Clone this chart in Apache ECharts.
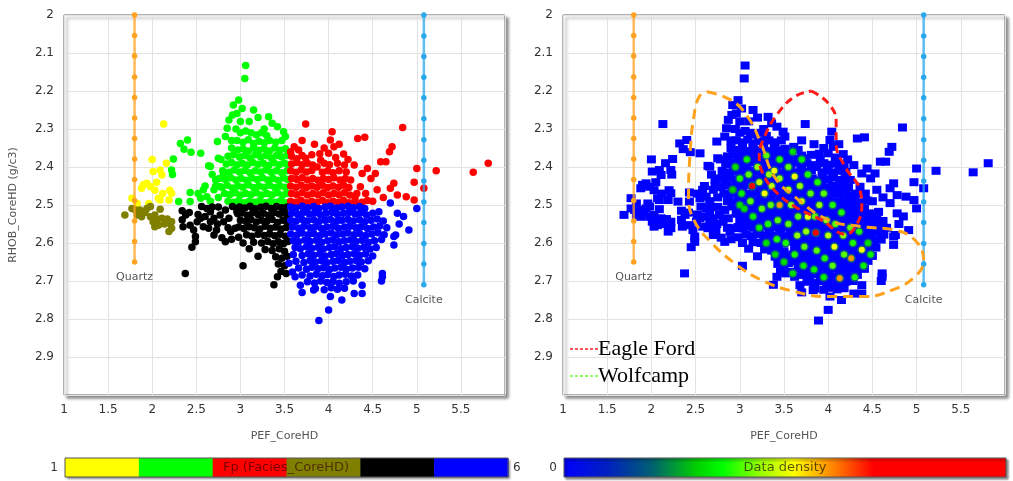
<!DOCTYPE html>
<html><head><meta charset="utf-8">
<script src="https://cdn.jsdelivr.net/npm/echarts@6/dist/echarts.min.js"></script>
<style>html,body{margin:0;padding:0;background:#fff}#c{width:1013px;height:481px}</style>
</head><body><div id="c"></div>
<script>
// ---------- tick labels ----------
const xTickLabels = ['1','1.5','2','2.5','3','3.5','4','4.5','5','5.5'];
const yTickLabels = ['2','2.1','2.2','2.3','2.4','2.5','2.6','2.7','2.8','2.9'];

// ---------- mineral lines ----------
const quartzPEF = 1.8;
const quartzRHOB = [2.0,2.054,2.108,2.163,2.217,2.271,2.325,2.379,2.433,2.488,2.542,2.596,2.65];
const calcitePEF = 5.08;
const calciteRHOB = [2.0,2.055,2.109,2.164,2.218,2.273,2.328,2.382,2.437,2.492,2.546,2.601,2.655,2.71];

// ---------- facies points [PEF, RHOB] ----------
const yellowPts = [[2.13,2.287],[2.0,2.38],[2.16,2.39],[2.01,2.412],[2.09,2.408],[2.11,2.421],[1.90,2.447],[1.94,2.443],[1.98,2.452],[1.88,2.456],[2.03,2.461],[2.20,2.461],[2.22,2.469],[2.19,2.487],[2.09,2.487],[2.07,2.482],[1.77,2.482],[1.83,2.496],[1.96,2.496],[2.12,2.47],[2.05,2.44]];
const olivePts = [[1.69,2.526],[1.77,2.509],[1.81,2.513],[1.86,2.513],[1.94,2.509],[1.98,2.504],[2.09,2.511],[1.83,2.526],[1.88,2.531],[1.98,2.531],[2.03,2.526],[2.01,2.544],[2.05,2.539],[2.11,2.535],[2.17,2.537],[2.03,2.557],[2.07,2.553],[2.20,2.548],[2.22,2.561],[2.19,2.570],[2.22,2.544],[1.92,2.52],[2.14,2.55]];
const greenPts = [[3.06,2.133],[3.05,2.167],[2.98,2.224],[2.92,2.237],[3.02,2.246],[2.96,2.259],[2.91,2.263],[3.15,2.25],[3.32,2.268],[2.87,2.276],[2.85,2.298],[2.83,2.32],[2.74,2.333],[2.32,2.338],[2.40,2.329],[2.36,2.353],[2.44,2.361],[2.55,2.364],[2.24,2.379],[2.23,2.42],[2.22,2.408],[2.64,2.397],[2.43,2.467],[2.52,2.47],[2.55,2.482],[2.43,2.491],[2.30,2.491],[2.70,2.46],[2.77,2.452],[2.62,2.478],[2.58,2.46],[2.72,2.434],[2.81,2.417],[2.75,2.377],[2.66,2.399],[3.36,2.285],[3.42,2.294],[3.49,2.307],[3.51,2.32],[3.1,2.28],[3.2,2.27],[3.27,2.3],[2.95,2.3],[3.0,2.28],[2.9,2.33],[2.78,2.38],[2.68,2.42],[2.6,2.45],[2.66,2.49],[2.75,2.48],
[3.0,2.31],[3.06,2.305],[3.12,2.31],[3.18,2.315],[3.24,2.31],[3.3,2.318],[2.96,2.33],[3.03,2.335],[3.09,2.328],[3.15,2.338],[3.21,2.332],[3.27,2.336],[3.33,2.33],[3.4,2.335],[3.47,2.33],
[2.9,2.35],[2.97,2.355],[3.03,2.352],[3.09,2.358],[3.15,2.35],[3.21,2.356],[3.27,2.352],[3.33,2.358],[3.39,2.35],[3.45,2.356],[3.51,2.352],
[2.86,2.372],[2.92,2.368],[2.99,2.374],[3.05,2.37],[3.11,2.376],[3.17,2.368],[3.23,2.374],[3.29,2.37],[3.35,2.376],[3.41,2.37],[3.47,2.374],[3.53,2.37],
[2.84,2.392],[2.9,2.388],[2.96,2.394],[3.02,2.39],[3.08,2.395],[3.14,2.388],[3.2,2.393],[3.26,2.39],[3.32,2.396],[3.38,2.389],[3.44,2.394],[3.5,2.39],[3.54,2.395],
[2.8,2.41],[2.87,2.414],[2.93,2.408],[2.99,2.413],[3.05,2.409],[3.11,2.415],[3.17,2.41],[3.23,2.413],[3.29,2.408],[3.35,2.414],[3.41,2.41],[3.47,2.415],[3.53,2.41],
[2.76,2.43],[2.83,2.433],[2.89,2.428],[2.95,2.434],[3.01,2.43],[3.07,2.435],[3.13,2.429],[3.19,2.433],[3.25,2.428],[3.31,2.434],[3.37,2.43],[3.43,2.435],[3.49,2.429],[3.54,2.433],
[2.72,2.45],[2.79,2.453],[2.85,2.448],[2.91,2.455],[2.97,2.45],[3.03,2.453],[3.09,2.447],[3.15,2.454],[3.21,2.45],[3.27,2.453],[3.33,2.448],[3.39,2.454],[3.45,2.45],[3.51,2.453],
[2.82,2.47],[2.88,2.473],[2.94,2.468],[3.0,2.474],[3.06,2.47],[3.12,2.473],[3.18,2.468],[3.24,2.474],[3.3,2.47],[3.36,2.473],[3.42,2.468],[3.48,2.474],[3.53,2.47],
[2.86,2.49],[2.92,2.493],[2.98,2.488],[3.04,2.494],[3.1,2.49],[3.16,2.493],[3.22,2.488],[3.28,2.494],[3.34,2.49],[3.4,2.493],[3.46,2.488],[3.52,2.494]];
const redPts = [[3.74,2.287],[4.04,2.307],[4.33,2.325],[4.41,2.322],[4.84,2.296],[3.84,2.34],[4.02,2.329],[4.06,2.347],[4.0,2.364],[4.17,2.366],[3.61,2.347],[3.57,2.36],[3.66,2.355],[3.74,2.377],[3.81,2.368],[3.91,2.382],[3.87,2.40],[4.29,2.395],[4.44,2.404],[4.53,2.417],[4.48,2.43],[4.38,2.417],[4.59,2.386],[4.65,2.386],[4.69,2.36],[4.72,2.347],[4.25,2.434],[4.36,2.452],[4.74,2.443],[4.70,2.456],[4.78,2.474],[4.88,2.478],[4.97,2.487],[5.0,2.404],[4.97,2.44],[5.08,2.456],[5.22,2.41],[5.64,2.414],[5.81,2.39],[3.95,2.35],[4.12,2.34],[3.7,2.33],[4.22,2.38],[4.55,2.46],[4.62,2.48],[4.42,2.47],[4.3,2.48],[4.5,2.49],
[3.58,2.372],[3.64,2.378],[3.7,2.37],[3.9,2.365],[4.08,2.375],
[3.58,2.392],[3.64,2.388],[3.7,2.394],[3.76,2.39],[3.82,2.395],[3.95,2.39],[4.01,2.394],[4.1,2.39],[4.18,2.395],
[3.57,2.41],[3.63,2.414],[3.69,2.408],[3.75,2.413],[3.81,2.409],[3.93,2.414],[3.99,2.41],[4.05,2.415],[4.12,2.41],[4.2,2.413],
[3.58,2.43],[3.64,2.433],[3.7,2.428],[3.76,2.434],[3.82,2.43],[3.88,2.435],[3.94,2.43],[4.0,2.433],[4.06,2.428],[4.13,2.434],[4.19,2.43],
[3.57,2.45],[3.63,2.453],[3.69,2.448],[3.75,2.454],[3.81,2.45],[3.87,2.453],[3.93,2.448],[3.99,2.454],[4.05,2.45],[4.11,2.453],[4.17,2.448],[4.23,2.454],
[3.58,2.47],[3.64,2.473],[3.7,2.468],[3.76,2.474],[3.82,2.47],[3.88,2.473],[3.94,2.468],[4.0,2.474],[4.06,2.47],[4.12,2.473],[4.18,2.468],[4.24,2.474],[4.32,2.47],
[3.57,2.49],[3.63,2.493],[3.69,2.488],[3.75,2.494],[3.81,2.49],[3.87,2.493],[3.93,2.488],[3.99,2.494],[4.05,2.49],[4.11,2.493],[4.17,2.488],[4.23,2.494],[4.3,2.49],[4.38,2.493],[4.44,2.488]];
const blackPts = [[2.34,2.515],[2.38,2.526],[2.34,2.539],[2.35,2.557],[2.43,2.553],[2.51,2.544],[2.55,2.535],[2.47,2.566],[2.49,2.583],[2.45,2.611],[2.49,2.597],[2.56,2.504],[2.62,2.509],[2.66,2.518],[2.58,2.557],[2.64,2.561],[2.70,2.579],[2.73,2.566],[2.77,2.526],[2.83,2.513],[2.81,2.544],[2.87,2.535],[2.89,2.57],[2.94,2.561],[2.79,2.586],[2.83,2.597],[2.70,2.535],[2.66,2.544],[2.91,2.504],[2.96,2.518],[2.375,2.68],[3.03,2.66],[2.42,2.52],[2.52,2.525],[2.60,2.53],[2.75,2.505],[2.68,2.505],[2.86,2.56],[2.74,2.55],[2.90,2.59],
[2.99,2.505],[3.05,2.508],[3.11,2.503],[3.17,2.51],[3.23,2.506],[3.29,2.503],[3.35,2.509],[3.41,2.504],[3.47,2.507],[3.53,2.505],
[2.97,2.523],[3.02,2.521],[3.08,2.527],[3.14,2.52],[3.2,2.525],[3.26,2.522],[3.32,2.527],[3.38,2.52],[3.44,2.524],[3.5,2.521],[3.54,2.528],
[3.0,2.54],[3.06,2.543],[3.12,2.538],[3.18,2.545],[3.24,2.54],[3.3,2.543],[3.36,2.538],[3.42,2.546],[3.48,2.54],[3.53,2.544],
[2.98,2.558],[3.04,2.562],[3.1,2.557],[3.16,2.56],[3.22,2.563],[3.28,2.556],[3.34,2.561],[3.4,2.558],[3.46,2.563],[3.52,2.559],
[3.07,2.578],[3.13,2.582],[3.2,2.577],[3.27,2.58],[3.33,2.576],[3.39,2.581],[3.45,2.577],[3.51,2.582],
[3.15,2.598],[3.24,2.6],[3.31,2.596],[3.37,2.602],[3.43,2.597],[3.49,2.601],[3.54,2.596],
[3.28,2.617],[3.36,2.62],[3.44,2.615],[3.5,2.622],[3.4,2.636],[3.47,2.64],[3.53,2.635],
[3.43,2.655],[3.5,2.66],[3.46,2.675],[3.52,2.68],[3.42,2.689],[3.38,2.71],[3.2,2.635],[3.1,2.615],[3.03,2.6],[2.98,2.585]];
const bluePts = [[4.70,2.495],[4.78,2.522],[5.0,2.509],[4.91,2.566],[4.76,2.579],[4.74,2.605],[4.61,2.689],[4.38,2.711],[4.38,2.733],[4.29,2.733],[4.02,2.741],[4.0,2.776],[3.89,2.804],[3.83,2.724],[3.68,2.711],[3.62,2.689],[3.59,2.676],[3.55,2.653],[4.74,2.583],[4.61,2.68],[4.8,2.55],[4.85,2.53],[4.6,2.7],[4.15,2.75],[3.7,2.73],
[3.57,2.505],[3.63,2.508],[3.7,2.503],[3.76,2.507],[3.83,2.504],[3.89,2.509],[3.96,2.505],[4.02,2.503],[4.09,2.508],[4.15,2.505],[4.22,2.503],[4.28,2.507],[4.35,2.504],[4.41,2.509],
[3.58,2.522],[3.65,2.525],[3.71,2.52],[3.78,2.524],[3.84,2.521],[3.91,2.526],[3.97,2.522],[4.04,2.52],[4.1,2.525],[4.17,2.522],[4.23,2.52],[4.3,2.524],[4.36,2.521],[4.43,2.526],[4.5,2.522],[4.57,2.518],
[3.57,2.54],[3.63,2.543],[3.7,2.538],[3.76,2.542],[3.83,2.539],[3.89,2.544],[3.96,2.54],[4.02,2.538],[4.09,2.543],[4.15,2.54],[4.22,2.538],[4.28,2.542],[4.35,2.539],[4.41,2.544],[4.48,2.54],[4.55,2.537],[4.62,2.542],
[3.59,2.558],[3.66,2.561],[3.72,2.556],[3.79,2.56],[3.85,2.557],[3.92,2.562],[3.98,2.558],[4.05,2.556],[4.11,2.561],[4.18,2.558],[4.24,2.556],[4.31,2.56],[4.37,2.557],[4.44,2.562],[4.51,2.558],[4.58,2.555],[4.66,2.56],
[3.57,2.576],[3.64,2.579],[3.7,2.574],[3.77,2.578],[3.83,2.575],[3.9,2.58],[3.96,2.576],[4.03,2.574],[4.09,2.579],[4.16,2.576],[4.22,2.574],[4.29,2.578],[4.35,2.575],[4.42,2.58],[4.49,2.576],[4.56,2.573],[4.63,2.578],
[3.6,2.594],[3.66,2.597],[3.73,2.592],[3.79,2.596],[3.86,2.593],[3.92,2.598],[3.99,2.594],[4.05,2.592],[4.12,2.597],[4.18,2.594],[4.25,2.592],[4.31,2.596],[4.38,2.593],[4.45,2.598],[4.52,2.594],[4.6,2.591],
[3.62,2.612],[3.68,2.615],[3.75,2.61],[3.81,2.614],[3.88,2.611],[3.94,2.616],[4.01,2.612],[4.07,2.61],[4.14,2.615],[4.2,2.612],[4.27,2.61],[4.33,2.614],[4.4,2.611],[4.47,2.616],[4.54,2.612],
[3.6,2.63],[3.7,2.633],[3.77,2.628],[3.83,2.632],[3.9,2.629],[3.96,2.634],[4.03,2.63],[4.09,2.628],[4.16,2.633],[4.22,2.63],[4.29,2.628],[4.35,2.632],[4.42,2.629],[4.5,2.634],
[3.63,2.648],[3.72,2.651],[3.79,2.646],[3.85,2.65],[3.92,2.647],[3.98,2.652],[4.05,2.648],[4.11,2.646],[4.18,2.651],[4.24,2.648],[4.31,2.646],[4.37,2.65],[4.45,2.647],
[3.66,2.666],[3.75,2.669],[3.81,2.664],[3.88,2.668],[3.94,2.665],[4.01,2.67],[4.07,2.666],[4.14,2.664],[4.2,2.669],[4.27,2.666],[4.34,2.664],[4.41,2.668],
[3.7,2.684],[3.79,2.687],[3.86,2.682],[3.93,2.686],[3.99,2.683],[4.06,2.688],[4.12,2.684],[4.19,2.682],[4.26,2.687],[4.33,2.684],
[3.76,2.702],[3.84,2.705],[3.91,2.7],[3.98,2.704],[4.05,2.701],[4.12,2.706],[4.2,2.702],[4.28,2.7],
[3.85,2.72],[3.95,2.723],[4.03,2.718],[4.1,2.722],[4.18,2.719]];

// ---------- density hot spots [PEF, RHOB, density 0..1] ----------
const densitySpots = [[2.95,2.40,0.35],[3.0,2.43,0.45],[3.02,2.47,0.4],[3.05,2.51,0.35],[3.08,2.38,0.4],[3.1,2.42,0.5],[3.14,2.45,1.0],[3.12,2.49,0.5],[3.15,2.53,0.4],[3.2,2.40,0.55],[3.22,2.44,0.6],[3.28,2.47,0.7],[3.25,2.51,0.5],[3.22,2.56,0.4],[3.3,2.37,0.5],[3.33,2.42,0.55],[3.39,2.41,0.7],[3.36,2.45,0.6],[3.35,2.5,0.5],[3.32,2.55,0.45],[3.3,2.6,0.35],[3.45,2.38,0.45],[3.45,2.43,0.55],[3.45,2.50,0.85],[3.43,2.54,0.5],[3.42,2.59,0.45],[3.4,2.63,0.35],[3.55,2.40,0.5],[3.62,2.425,0.7],[3.55,2.46,0.6],[3.58,2.5,0.55],[3.55,2.55,0.5],[3.52,2.6,0.45],[3.5,2.65,0.35],[3.68,2.45,0.55],[3.7,2.49,0.6],[3.66,2.53,0.5],[3.65,2.58,0.55],[3.62,2.63,0.45],[3.6,2.68,0.35],[3.77,2.42,0.45],[3.8,2.47,0.5],[3.77,2.531,0.7],[3.75,2.57,0.55],[3.73,2.61,0.5],[3.72,2.66,0.4],[3.86,2.573,1.0],[3.88,2.44,0.45],[3.9,2.5,0.55],[3.85,2.53,0.5],[3.87,2.62,0.5],[3.84,2.67,0.4],[3.95,2.47,0.5],[3.98,2.54,0.55],[4.0,2.58,0.6],[3.96,2.64,0.45],[3.95,2.69,0.4],[4.07,2.61,0.7],[4.05,2.5,0.45],[4.08,2.55,0.5],[4.05,2.66,0.5],[4.13,2.693,0.85],[4.15,2.52,0.45],[4.17,2.58,0.55],[4.18,2.63,0.5],[4.26,2.64,0.85],[4.25,2.56,0.5],[4.28,2.6,0.45],[4.3,2.69,0.45],[4.38,2.618,0.7],[4.35,2.57,0.45],[4.4,2.66,0.4],[4.45,2.6,0.35],[4.48,2.63,0.4],[3.0,2.5,0.35],[2.92,2.46,0.3],[3.6,2.36,0.35],[3.7,2.38,0.4]];

// ---------- contour outlines [PEF, RHOB] ----------
const eagleFordCurve = [[3.81,2.20],[4.0,2.232],[4.09,2.281],[4.09,2.338],[4.19,2.399],[4.36,2.461],[4.38,2.504],[4.3,2.56],[4.2,2.577],[3.92,2.539],[3.62,2.504],[3.39,2.461],[3.26,2.417],[3.22,2.373],[3.28,2.32],[3.43,2.259],[3.62,2.215],[3.81,2.20]];
const wolfcampCurve = [[2.63,2.202],[2.90,2.224],[3.09,2.268],[3.24,2.338],[3.39,2.425],[3.62,2.478],[4.0,2.539],[4.38,2.557],[4.75,2.566],[4.98,2.592],[5.08,2.645],[4.98,2.689],[4.72,2.724],[4.41,2.741],[4.0,2.741],[3.62,2.728],[3.24,2.697],[2.94,2.653],[2.67,2.597],[2.48,2.539],[2.42,2.478],[2.44,2.355],[2.48,2.268],[2.54,2.215],[2.63,2.202]];

// ---------- legend / colour bar text ----------
const faciesBarTitle = 'Fp (Facies_CoreHD)';
const faciesBarMin = '1', faciesBarMax = '6';
const densityBarTitle = 'Data density', densityBarMin = '0';
const curveNames = ['Eagle Ford', 'Wolfcamp'];
const xName = 'PEF_CoreHD', yName = 'RHOB_CoreHD (g/c3)';

// ---------- styles ----------
const faciesColors = ['#ffff00','#00ff00','#ff0000','#808000','#000000','#0000ff'];
const densityStops = [[0,'#0000ff'],[0.1,'#0020c0'],[0.2,'#006070'],[0.3,'#00d000'],[0.36,'#00ff00'],[0.45,'#a0ff00'],[0.52,'#ffff00'],[0.6,'#ff9000'],[0.7,'#ff0000'],[1,'#ff0000']];
const FONT = '"DejaVu Sans", Verdana, sans-serif';
const quartzColor = '#ffa220', calciteColor = '#2aa8ec';

const chart = echarts.init(document.getElementById('c'), null, {renderer: 'canvas'});

function xAxis(gi) {
  return {
    gridIndex: gi, type: 'value', min: 1, max: 6, interval: 0.5,
    name: xName, nameLocation: 'middle', nameGap: 36,
    nameTextStyle: {color: '#555', fontSize: 11, fontFamily: FONT},
    axisLine: {show: false}, axisTick: {show: false},
    axisLabel: {color: '#333', fontSize: 12, fontFamily: FONT, margin: 9, showMaxLabel: false,
      formatter: v => xTickLabels[Math.round((v - 1) / 0.5)] || ''},
    splitLine: {show: true, lineStyle: {color: '#e2e2e2', width: 1}}
  };
}
function yAxis(gi, withName) {
  return {
    gridIndex: gi, type: 'value', min: 2, max: 3, interval: 0.1, inverse: true,
    name: withName ? yName : '', nameLocation: 'middle', nameGap: 45, nameRotate: 90,
    nameTextStyle: {color: '#555', fontSize: 11, fontFamily: FONT},
    axisLine: {show: false}, axisTick: {show: false},
    axisLabel: {color: '#333', fontSize: 12, fontFamily: FONT, margin: 10, showMaxLabel: false,
      formatter: v => yTickLabels[Math.round((v - 2) / 0.1)] || ''},
    splitLine: {show: true, lineStyle: {color: '#e2e2e2', width: 1}}
  };
}
const gridStyle = {show: true, backgroundColor: '#fff', borderColor: '#666', borderWidth: 1,
  shadowColor: 'rgba(0,0,0,0.45)', shadowBlur: 3, shadowOffsetX: 3, shadowOffsetY: 3};

function mineral(gi, pef, rhobs, color, name) {
  return {
    type: 'line', xAxisIndex: gi, yAxisIndex: gi, z: 6, silent: true,
    symbol: 'circle', symbolSize: 5.5, showSymbol: true,
    itemStyle: {color: color, opacity: 1}, lineStyle: {color: color, width: 2.5, opacity: 0.75},
    data: rhobs.map((r, i) => i === rhobs.length - 1
      ? {value: [pef, r], label: {show: true, formatter: name, position: 'bottom', distance: 7,
          color: '#555', fontSize: 11, fontFamily: FONT}}
      : [pef, r])
  };
}
function scatter(pts, color) {
  return {type: 'scatter', xAxisIndex: 0, yAxisIndex: 0, symbolSize: 7.5, z: 3, silent: true,
    itemStyle: {color: color, opacity: 1}, data: pts};
}
const allPts = [].concat(yellowPts, greenPts, redPts, olivePts, blackPts, bluePts);

const series = [
  scatter(yellowPts, faciesColors[0]),
  scatter(greenPts, faciesColors[1]),
  scatter(redPts, faciesColors[2]),
  scatter(olivePts, faciesColors[3]),
  scatter(blackPts, faciesColors[4]),
  scatter(bluePts, faciesColors[5]),
  mineral(0, quartzPEF, quartzRHOB, quartzColor, 'Quartz'),
  mineral(0, calcitePEF, calciteRHOB, calciteColor, 'Calcite'),
  {type: 'scatter', xAxisIndex: 1, yAxisIndex: 1, symbol: 'rect', symbolSize: [9, 8], z: 3, silent: true,
    itemStyle: {color: '#0000ff', opacity: 1}, data: allPts},
  {type: 'scatter', xAxisIndex: 1, yAxisIndex: 1, symbolSize: 9, z: 4, silent: true,
    itemStyle: {color: '#0b7a5c', opacity: 0.75}, data: densitySpots.map(d => [d[0], d[1]])},
  {id: 'spots', type: 'scatter', xAxisIndex: 1, yAxisIndex: 1, symbolSize: 6, z: 5, silent: true,
    itemStyle: {opacity: 1}, data: densitySpots},
  {type: 'line', xAxisIndex: 1, yAxisIndex: 1, z: 7, silent: true, smooth: 0.45, symbol: 'none',
    lineStyle: {color: '#ffa21e', width: 3, type: [10, 6]}, data: wolfcampCurve},
  {type: 'line', xAxisIndex: 1, yAxisIndex: 1, z: 7, silent: true, smooth: 0.45, symbol: 'none',
    lineStyle: {color: '#ff1a1a', width: 3, type: [8, 5]}, data: eagleFordCurve},
  mineral(1, quartzPEF, quartzRHOB, quartzColor, 'Quartz'),
  mineral(1, calcitePEF, calciteRHOB, calciteColor, 'Calcite')
];

// colour bars and annotation
const bars = [];
const segW = 443 / faciesColors.length;
bars.push({type: 'rect', shape: {x: 65, y: 458, width: 443, height: 19}, z: 1,
  style: {fill: '#fff', shadowColor: 'rgba(0,0,0,0.45)', shadowBlur: 2, shadowOffsetX: 2, shadowOffsetY: 2}});
faciesColors.forEach((c, i) => bars.push({type: 'rect', z: 2,
  shape: {x: 65 + i * segW, y: 458, width: segW + 0.5, height: 19}, style: {fill: c}}));
bars.push({type: 'rect', z: 3, shape: {x: 65, y: 458, width: 443, height: 19}, style: {fill: 'none', stroke: '#555', lineWidth: 1}});
bars.push({type: 'text', z: 4, x: 286, y: 468, style: {text: faciesBarTitle, fill: 'rgba(50,0,0,0.65)', font: '13px ' + FONT, align: 'center', verticalAlign: 'middle', textAlign: 'center', textVerticalAlign: 'middle'}});
bars.push({type: 'text', z: 4, x: 58, y: 468, style: {text: faciesBarMin, fill: '#333', font: '12px ' + FONT, align: 'right', verticalAlign: 'middle', textAlign: 'right', textVerticalAlign: 'middle'}});
bars.push({type: 'text', z: 4, x: 513, y: 468, style: {text: faciesBarMax, fill: '#333', font: '12px ' + FONT, align: 'left', verticalAlign: 'middle', textAlign: 'left', textVerticalAlign: 'middle'}});

bars.push({type: 'rect', z: 2, shape: {x: 564, y: 458, width: 442, height: 19},
  style: {fill: new echarts.graphic.LinearGradient(0, 0, 1, 0, densityStops.map(s => ({offset: s[0], color: s[1]}))),
    stroke: '#555', lineWidth: 1, shadowColor: 'rgba(0,0,0,0.45)', shadowBlur: 2, shadowOffsetX: 2, shadowOffsetY: 2}});
bars.push({type: 'text', z: 4, x: 785, y: 468, style: {text: densityBarTitle, fill: 'rgba(40,30,0,0.75)', font: '13px ' + FONT, align: 'center', verticalAlign: 'middle', textAlign: 'center', textVerticalAlign: 'middle'}});
bars.push({type: 'text', z: 4, x: 557, y: 468, style: {text: densityBarMin, fill: '#333', font: '12px ' + FONT, align: 'right', verticalAlign: 'middle', textAlign: 'right', textVerticalAlign: 'middle'}});

// curve legend annotation
[['#ff2020', 349], ['#66ff33', 376]].forEach((d, i) => {
  bars.push({type: 'line', z: 20, shape: {x1: 570, y1: d[1], x2: 598, y2: d[1]},
    style: {stroke: d[0], lineWidth: 1.5, lineDash: [3, 2]}});
  bars.push({type: 'text', z: 20, x: 598, y: d[1], style: {text: curveNames[i], fill: '#000',
    font: '22px "Liberation Serif", "Times New Roman", serif', align: 'left', verticalAlign: 'middle', textAlign: 'left', textVerticalAlign: 'middle'}});
});

chart.setOption({
  backgroundColor: '#fff',
  animation: false,
  grid: [
    Object.assign({left: 64, top: 15, width: 441, height: 380}, gridStyle),
    Object.assign({left: 563, top: 15, width: 442, height: 380}, gridStyle)
  ],
  xAxis: [xAxis(0), xAxis(1)],
  yAxis: [yAxis(0, true), yAxis(1, false)],
  visualMap: [{type: 'continuous', show: false, seriesIndex: 10, dimension: 2, min: 0, max: 1,
    inRange: {color: ['#0000ff', '#006070', '#00c000', '#00ff00', '#b0ff00', '#ffff00', '#ff9000', '#ff0000']}}],
  series: series,
  graphic: {elements: bars}
});
</script></body></html>
